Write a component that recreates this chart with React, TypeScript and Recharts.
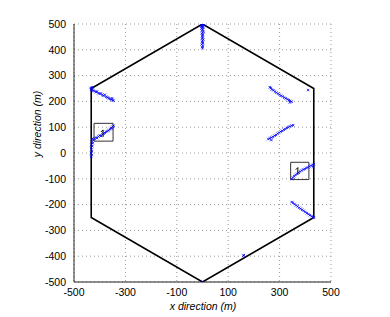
import React from 'react';
import { ScatterChart, Scatter, XAxis, YAxis, CartesianGrid } from 'recharts';

const xTicks = [-500, -300, -100, 100, 300, 500];
const yTicks = [-500, -400, -300, -200, -100, 0, 100, 200, 300, 400, 500];

const hexagon: [number, number][] = [[0, 500], [433, 250], [433, -250], [0, -500], [-433, -250], [-433, 250], [0, 500]];
const boxLeft: [number, number][] = [[-422, 46], [-348, 46], [-348, 115], [-422, 115], [-422, 46]];
const boxRight: [number, number][] = [[343, -103], [414, -103], [414, -36], [343, -36], [343, -103]];
const agents: [number, number][] = [[-387, 74], [371, -72]];

const clusterTop: [number, number][] = [[0,498],[-3,495],[2,492],[-1,488],[3,485],[-4,482],[1,478],[-2,474],[4,470],[0,466],[-3,462],[2,458],[-1,453],[1,448],[-2,444],[3,440],[0,436],[-1,431],[2,426],[-3,421],[1,416],[-1,411],[0,406],[5,497],[-5,490],[-2,500],[2,500]];
const clusterTopLeft: [number, number][] = [[-435,252],[-432,248],[-430,255],[-428,245],[-433,244],[-425,242],[-420,240],[-415,236],[-410,238],[-405,232],[-400,229],[-395,231],[-390,225],[-385,222],[-380,226],[-375,218],[-370,215],[-365,213],[-360,210],[-355,207],[-350,205],[-346,203],[-352,212]];
const clusterLeft: [number, number][] = [[-433,-15],[-431,-8],[-434,0],[-430,6],[-432,12],[-433,20],[-429,26],[-432,32],[-427,38],[-430,44],[-425,50],[-428,56],[-420,55],[-415,60],[-410,58],[-405,64],[-400,68],[-395,66],[-390,72],[-385,75],[-380,78],[-375,82],[-370,85],[-365,88],[-360,92],[-355,97],[-350,102],[-346,106],[-352,95]];
const clusterRightUpper: [number, number][] = [[262,255],[266,252],[270,246],[276,243],[282,238],[288,234],[294,230],[300,226],[306,222],[312,219],[318,215],[324,212],[330,208],[336,205],[341,202],[347,199],[340,196],[411,244]];
const clusterRightMid: [number, number][] = [[256,54],[262,57],[268,60],[274,63],[280,67],[286,70],[292,75],[298,79],[304,83],[310,86],[316,90],[322,93],[328,97],[334,100],[340,103],[347,106],[353,108],[268,50]];
const clusterRightBox: [number, number][] = [[347,-101],[352,-95],[357,-90],[362,-85],[368,-80],[374,-76],[380,-72],[386,-68],[392,-64],[398,-62],[404,-58],[410,-56],[416,-52],[422,-49],[428,-46],[433,-43],[431,-55]];
const clusterRightLower: [number, number][] = [[347,-190],[352,-193],[358,-198],[364,-203],[370,-207],[376,-212],[382,-216],[388,-220],[394,-224],[400,-229],[406,-233],[412,-237],[418,-241],[424,-245],[430,-249],[433,-250]];
const clusterBottom: [number, number][] = [[159,-398],[161,-396],[0,-500]];

const toObj = (a: [number, number][]) => a.map(([x, y]) => ({ x, y }));
const bluePoints = [
  ...clusterTop, ...clusterTopLeft, ...clusterLeft, ...clusterRightUpper,
  ...clusterRightMid, ...clusterRightBox, ...clusterRightLower, ...clusterBottom,
];

const Cross = (props: any) => {
  const { cx, cy } = props;
  if (cx == null || cy == null) return <g />;
  return (
    <g stroke="#0000ff" strokeWidth={0.8}>
      <line x1={cx - 1.2} y1={cy - 1.2} x2={cx + 1.2} y2={cy + 1.2} />
      <line x1={cx - 1.2} y1={cy + 1.2} x2={cx + 1.2} y2={cy - 1.2} />
    </g>
  );
};

const Agent = (props: any) => {
  const { cx, cy } = props;
  if (cx == null || cy == null) return <g />;
  return (
    <g stroke="#000" strokeWidth={1} fill="none">
      <line x1={cx} y1={cy - 4} x2={cx} y2={cy + 3} />
      <line x1={cx - 2} y1={cy - 2} x2={cx} y2={cy - 4} />
    </g>
  );
};

const Empty = () => <g />;

const font = 'Liberation Sans, Arial, Helvetica, sans-serif';

export default function App() {
  return (
    <div style={{ position: 'absolute', left: 0, top: 0, width: 390, height: 317, background: '#fff' }}>
      <ScatterChart width={390} height={317} margin={{ top: 24, right: 59, bottom: 0, left: 0 }}>
        <CartesianGrid stroke="#999" strokeDasharray="1 3" />
        <XAxis
          type="number"
          dataKey="x"
          domain={[-500, 500]}
          ticks={xTicks}
          height={35}
          tickSize={0}
          tickMargin={7}
          axisLine={{ stroke: '#222' }}
          tick={{ fontSize: 10.5, fontFamily: font, fill: '#000' }}
          allowDataOverflow
        />
        <YAxis
          type="number"
          dataKey="y"
          domain={[-500, 500]}
          ticks={yTicks}
          width={74}
          tickSize={0}
          tickMargin={8}
          axisLine={{ stroke: '#222' }}
          tick={{ fontSize: 10.5, fontFamily: font, fill: '#000' }}
          allowDataOverflow
        />
        <Scatter data={toObj(hexagon)} line={{ stroke: '#000', strokeWidth: 1.6 }} shape={Empty} isAnimationActive={false} />
        <Scatter data={toObj(boxLeft)} line={{ stroke: '#333', strokeWidth: 1 }} shape={Empty} isAnimationActive={false} />
        <Scatter data={toObj(boxRight)} line={{ stroke: '#333', strokeWidth: 1 }} shape={Empty} isAnimationActive={false} />
        <Scatter data={toObj(bluePoints)} shape={Cross} isAnimationActive={false} />
        <Scatter data={toObj(agents)} shape={Agent} isAnimationActive={false} />
      </ScatterChart>
      <div style={{ position: 'absolute', left: 203, top: 306, transform: 'translate(-50%, -50%)', fontFamily: font, fontSize: 10.5, fontStyle: 'italic', whiteSpace: 'nowrap' }}>
        x direction (m)
      </div>
      <div style={{ position: 'absolute', left: 37, top: 124, transform: 'translate(-50%, -50%) rotate(-90deg)', fontFamily: font, fontSize: 10.5, fontStyle: 'italic', whiteSpace: 'nowrap' }}>
        y direction (m)
      </div>
    </div>
  );
}
